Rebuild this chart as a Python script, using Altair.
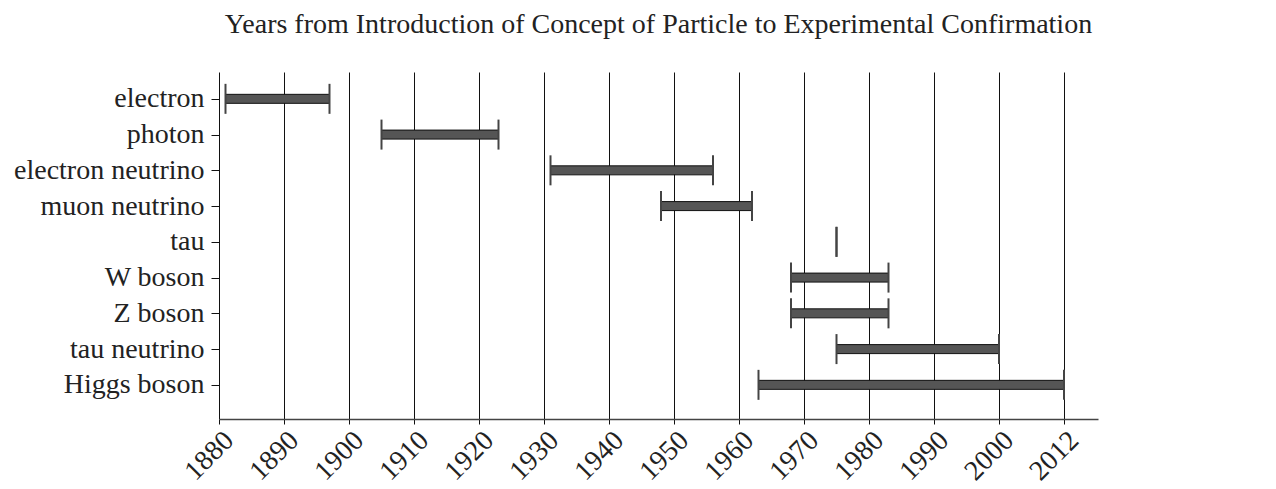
import altair as alt
import pandas as pd

particles = ["electron", "photon", "electron neutrino", "muon neutrino", "tau",
             "W boson", "Z boson", "tau neutrino", "Higgs boson"]
introduced = [1881, 1905, 1931, 1948, 1975, 1968, 1968, 1975, 1963]
confirmed = [1897, 1923, 1956, 1962, 1975, 1983, 1983, 2000, 2012]
tick_years = [1880, 1890, 1900, 1910, 1920, 1930, 1940, 1950, 1960, 1970, 1980, 1990, 2000, 2012]
title_text = "Years from Introduction of Concept of Particle to Experimental Confirmation"

df = pd.DataFrame({"particle": particles, "start": introduced, "end": confirmed})
caps = pd.concat([
    pd.DataFrame({"particle": particles, "year": introduced}),
    pd.DataFrame({"particle": particles, "year": confirmed}),
])

FONT = "Liberation Serif"
W, H = 879, 347

xscale = alt.Scale(domain=[1880, 2000, 2012, 2017.2], range=[0, 780, 845, W], nice=False, zero=False)
yscale = alt.Scale(type="point", padding=0.853, align=0.44)

xaxis = alt.Axis(values=tick_years, format="d", title=None, grid=True, gridColor="#111",
                 gridWidth=1, gridOpacity=1, domainColor="#444", domainWidth=1.5,
                 tickColor="#111", tickSize=5, labelAngle=-45, labelAlign="right",
                 labelBaseline="top", labelFontSize=28, labelFont=FONT, labelColor="#222",
                 labelPadding=2, labelOverlap=False)
yaxis = alt.Axis(title=None, domain=False, tickColor="#111", tickSize=8, labelFontSize=28,
                 labelFont=FONT, labelColor="#222", labelPadding=7, labelLimit=400, grid=False)

bars = alt.Chart(df).mark_bar(height=9, fill="#555", stroke="#111", strokeWidth=1).encode(
    x=alt.X("start:Q", scale=xscale, axis=xaxis),
    x2="end:Q",
    y=alt.Y("particle:N", sort=particles, scale=yscale, axis=yaxis),
)

cap_marks = alt.Chart(caps).mark_tick(size=30, thickness=2, color="#444", opacity=1).encode(
    x=alt.X("year:Q", scale=xscale),
    y=alt.Y("particle:N", sort=particles, scale=yscale),
)

chart = alt.layer(bars, cap_marks).properties(
    width=W, height=H, background="white",
    padding={"top": 3, "left": 5, "right": 5, "bottom": 5},
    title=alt.TitleParams(title_text, font=FONT, fontSize=28, fontWeight="normal",
                          color="#222", anchor="middle", offset=33),
).configure_view(stroke=None)

chart.save("out.html", embed_options={"renderer": "svg", "actions": False})
